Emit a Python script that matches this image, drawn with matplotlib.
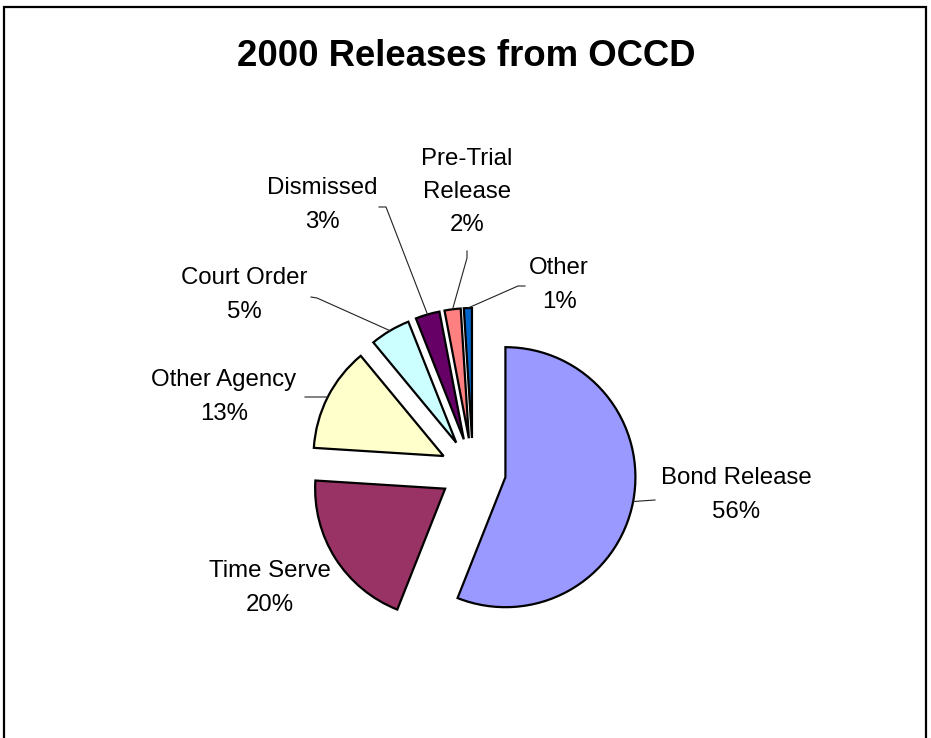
import numpy as np
import matplotlib
matplotlib.use('Agg')
import matplotlib.pyplot as plt
from matplotlib.patches import Rectangle

plt.rcParams['font.family'] = ['Liberation Sans', 'DejaVu Sans']

## data
labels = ['Bond Release', 'Time Serve', 'Other Agency', 'Court Order',
          'Dismissed', 'Pre-Trial\nRelease', 'Other']
shares = [56, 20, 13, 5, 3, 2, 1]
colors = ['#9999FF', '#993366', '#FFFFCC', '#CCFFFF', '#660066', '#FF8080', '#0066CC']

## label placement (pixels, y from top) and leader line knees
W, H = 931, 738
label_pos = [(736, 495), (270, 588), (224, 397), (244, 295), (322, 205), (467, 192), (559, 285)]
leaders = [[(655, 500)], None, [(305, 397)], [(317, 298), (311, 297)],
           [(386, 207), (379, 207)], [(467, 258), (467, 251)], [(518, 286), (525, 286)]]

fig = plt.figure(figsize=(W / 100, H / 100), dpi=100)
ax = fig.add_axes([0, 0, 1, 1])

wedges, _ = ax.pie(shares, colors=colors, startangle=90, counterclock=False,
                   radius=130, center=(473, H - 471), explode=[33] * len(shares),
                   wedgeprops=dict(edgecolor='black', linewidth=1.6))
ax.set_xlim(0, W)
ax.set_ylim(0, H)
ax.set_aspect('equal')
ax.axis('off')

for w, lab, share, pos, lead in zip(wedges, labels, shares, label_pos, leaders):
    ax.text(pos[0], H - pos[1], f'{lab}\n{share}%', ha='center', va='center',
            fontsize=17.3, linespacing=1.66)
    if lead is None:
        continue
    mid = np.radians((w.theta1 + w.theta2) / 2)
    cx, cy = w.center
    xs = [cx + w.r * np.cos(mid)] + [p[0] for p in lead]
    ys = [cy + w.r * np.sin(mid)] + [H - p[1] for p in lead]
    ax.plot(xs, ys, color='#222222', linewidth=0.8)

ax.text(466, H - 56, '2000 Releases from OCCD', ha='center', va='center',
        fontsize=26.3, fontweight='bold')

## outer border, bottom edge runs off the picture
fig.patches.append(Rectangle((4 / W, -0.05), 922 / W, 1.05 - 7 / H,
                             transform=fig.transFigure, fill=False,
                             edgecolor='black', linewidth=1.6))

plt.savefig('out.png', dpi=100)
